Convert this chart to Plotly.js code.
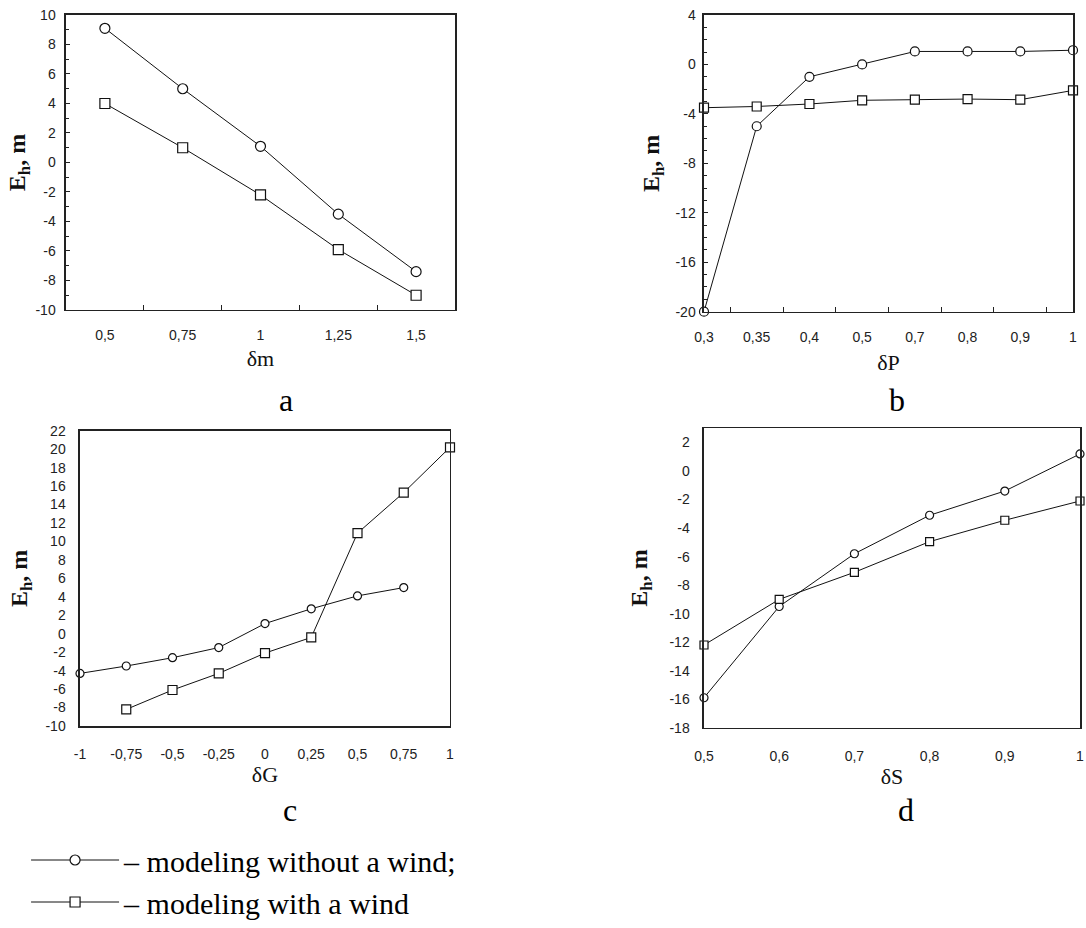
<!DOCTYPE html>
<html>
<head>
<meta charset="utf-8">
<script src="https://cdn.plot.ly/plotly-3.0.1.min.js"></script>
<style>
html,body{margin:0;padding:0;background:#fff;}
#chart{width:1086px;height:928px;}
</style>
</head>
<body>
<div id="chart"></div>
<script>
// ---- Panel a: delta m ----
var catA = ["0,5", "0,75", "1", "1,25", "1,5"];
var aNoWind = [9.1, 5.0, 1.1, -3.5, -7.4];
var aWind = [4.0, 1.0, -2.2, -5.9, -9.0];
var yTicksA = [-10, -8, -6, -4, -2, 0, 2, 4, 6, 8, 10];

// ---- Panel b: delta P ----
var catB = ["0,3", "0,35", "0,4", "0,5", "0,7", "0,8", "0,9", "1"];
var bNoWind = [-20.0, -5.0, -1.0, 0.0, 1.05, 1.05, 1.05, 1.15];
var bWind = [-3.5, -3.4, -3.2, -2.9, -2.85, -2.8, -2.85, -2.1];
var yTicksB = [-20, -16, -12, -8, -4, 0, 4];

// ---- Panel c: delta G ----
var xCNoWind = [-1, -0.75, -0.5, -0.25, 0, 0.25, 0.5, 0.75];
var cNoWind = [-4.3, -3.5, -2.6, -1.5, 1.1, 2.7, 4.1, 5.0];
var xCWind = [-0.75, -0.5, -0.25, 0, 0.25, 0.5, 0.75, 1];
var cWind = [-8.2, -6.1, -4.3, -2.1, -0.4, 10.9, 15.3, 20.2];
var xTicksC = [-1, -0.75, -0.5, -0.25, 0, 0.25, 0.5, 0.75, 1];
var yTicksC = [-10, -8, -6, -4, -2, 0, 2, 4, 6, 8, 10, 12, 14, 16, 18, 20, 22];

// ---- Panel d: delta S ----
var xD = [0.5, 0.6, 0.7, 0.8, 0.9, 1.0];
var dNoWind = [-15.9, -9.5, -5.8, -3.1, -1.4, 1.2];
var dWind = [-12.2, -9.0, -7.1, -4.95, -3.45, -2.1];
var xTicksD = [0.5, 0.6, 0.7, 0.8, 0.9, 1.0];
var yTicksD = [-18, -16, -14, -12, -10, -8, -6, -4, -2, 0, 2];

var seriesNames = ["\u2013 modeling without a wind;", "\u2013 modeling with a wind"];
var xTitles = ["\u03b4m", "\u03b4P", "\u03b4G", "\u03b4S"];
var panelLetters = ["a", "b", "c", "d"];
var yTitle = "E<sub>h</sub>, m";

function fmt(v) { return String(v).replace('.', ','); }

var SANS = "Liberation Sans, Arial, sans-serif";
var SERIF = "Liberation Serif, Times New Roman, serif";

function tr(x, y, xa, ya, sym, size, idx, show) {
  return {
    x: x, y: y, xaxis: xa, yaxis: ya, type: 'scatter', mode: 'lines+markers',
    name: seriesNames[idx], showlegend: show, cliponaxis: false,
    line: {color: '#111', width: 1},
    marker: {symbol: sym, size: size, color: '#fff', line: {color: '#111', width: 1.2}}
  };
}

var data = [
  tr(catA, aNoWind, 'x', 'y', 'circle', 10, 0, true),
  tr(catA, aWind, 'x', 'y', 'square', 10, 1, true),
  tr(catB, bNoWind, 'x2', 'y2', 'circle', 9, 0, false),
  tr(catB, bWind, 'x2', 'y2', 'square', 9, 1, false),
  tr(xCNoWind, cNoWind, 'x3', 'y3', 'circle', 8, 0, false),
  tr(xCWind, cWind, 'x3', 'y3', 'square', 9, 1, false),
  tr(xD, dNoWind, 'x4', 'y4', 'circle', 8, 0, false),
  tr(xD, dWind, 'x4', 'y4', 'square', 8, 1, false)
];

var tickFont = {family: SANS, size: 14, color: '#222'};
var xTitleFont = {family: SERIF, size: 22, color: '#111'};
var yTitleFont = {family: SERIF, size: 24, color: '#111', weight: 'bold'};

function baseAxis(extra) {
  var ax = {
    showline: true, mirror: true, linecolor: '#222', linewidth: 1.5,
    showgrid: false, zeroline: false, tickfont: tickFont, fixedrange: true
  };
  for (var k in extra) ax[k] = extra[k];
  return ax;
}

var layout = {
  width: 1086, height: 928,
  margin: {l: 0, r: 0, t: 0, b: 0},
  paper_bgcolor: '#fff', plot_bgcolor: '#fff',
  showlegend: true,
  legend: {
    x: 0.024, y: 0.101, xanchor: 'left', yanchor: 'top',
    font: {family: SERIF, size: 30, color: '#000'},
    bgcolor: 'rgba(0,0,0,0)', borderwidth: 0, itemwidth: 88,
    tracegroupgap: 0
  },
  // Panel a
  xaxis: baseAxis({
    domain: [0.06077, 0.41897], anchor: 'y', type: 'category',
    range: [-0.5, 4.5], tickson: 'boundaries', ticks: 'inside', ticklen: 5,
    tickcolor: '#222', ticklabelstandoff: 12,
    title: {text: xTitles[0], font: xTitleFont, standoff: 8}
  }),
  yaxis: baseAxis({
    domain: [0.66595, 0.98384], anchor: 'x', range: [-10, 10],
    tickmode: 'array', tickvals: yTicksA, ticktext: yTicksA.map(fmt),
    ticks: 'inside', ticklen: 4, tickcolor: '#222', ticklabelstandoff: 6,
    minor: {tickmode: 'linear', tick0: 0, dtick: 1, ticks: 'inside', ticklen: 3, tickcolor: '#222'},
    title: {text: yTitle, font: yTitleFont, standoff: 3}
  }),
  // Panel b
  xaxis2: baseAxis({
    domain: [0.64825, 0.98803], anchor: 'y2', type: 'category',
    range: [0, 7], tickson: 'boundaries', ticks: 'inside', ticklen: 5,
    tickcolor: '#222', ticklabelstandoff: 12,
    title: {text: xTitles[1], font: xTitleFont, standoff: 10}
  }),
  yaxis2: baseAxis({
    domain: [0.66412, 0.98384], anchor: 'x2', range: [-20, 4],
    tickmode: 'array', tickvals: yTicksB, ticktext: yTicksB.map(fmt),
    ticks: 'inside', ticklen: 4, tickcolor: '#222', ticklabelstandoff: 4,
    minor: {tickmode: 'linear', tick0: 0, dtick: 1, ticks: 'inside', ticklen: 3, tickcolor: '#222'},
    title: {text: yTitle, font: yTitleFont, standoff: 9}
  }),
  // Panel c
  xaxis3: baseAxis({
    domain: [0.07366, 0.41436], anchor: 'y3', range: [-1, 1],
    tickmode: 'array', tickvals: xTicksC, ticktext: xTicksC.map(fmt),
    ticks: '', ticklabelstandoff: 15,
    title: {text: xTitles[2], font: xTitleFont, standoff: 5}
  }),
  yaxis3: baseAxis({
    domain: [0.21767, 0.53588], anchor: 'x3', range: [-10, 22],
    tickmode: 'array', tickvals: yTicksC, ticktext: yTicksC.map(fmt),
    ticks: '', ticklabelstandoff: 10,
    title: {text: yTitle, font: yTitleFont, standoff: 11}
  }),
  // Panel d
  xaxis4: baseAxis({
    domain: [0.64825, 0.99448], anchor: 'y4', range: [0.5, 1.0],
    tickmode: 'array', tickvals: xTicksD, ticktext: xTicksD.map(fmt),
    ticks: '', ticklabelstandoff: 15,
    title: {text: xTitles[3], font: xTitleFont, standoff: 5}
  }),
  yaxis4: baseAxis({
    domain: [0.21584, 0.53847], anchor: 'x4', range: [-18, 3],
    tickmode: 'array', tickvals: yTicksD, ticktext: yTicksD.map(fmt),
    ticks: '', ticklabelstandoff: 10,
    title: {text: yTitle, font: yTitleFont, standoff: 15}
  }),
  annotations: [
    {text: panelLetters[0], x: 0.2634, y: 0.569},
    {text: panelLetters[1], x: 0.826, y: 0.569},
    {text: panelLetters[2], x: 0.267, y: 0.1272},
    {text: panelLetters[3], x: 0.834, y: 0.1272}
  ].map(function(a){
    a.xref = 'paper'; a.yref = 'paper'; a.showarrow = false;
    a.xanchor = 'center'; a.yanchor = 'middle';
    a.font = {family: SERIF, size: 32, color: '#000'};
    return a;
  })
};

Plotly.newPlot('chart', data, layout, {staticPlot: true, displayModeBar: false});
</script>
</body>
</html>
